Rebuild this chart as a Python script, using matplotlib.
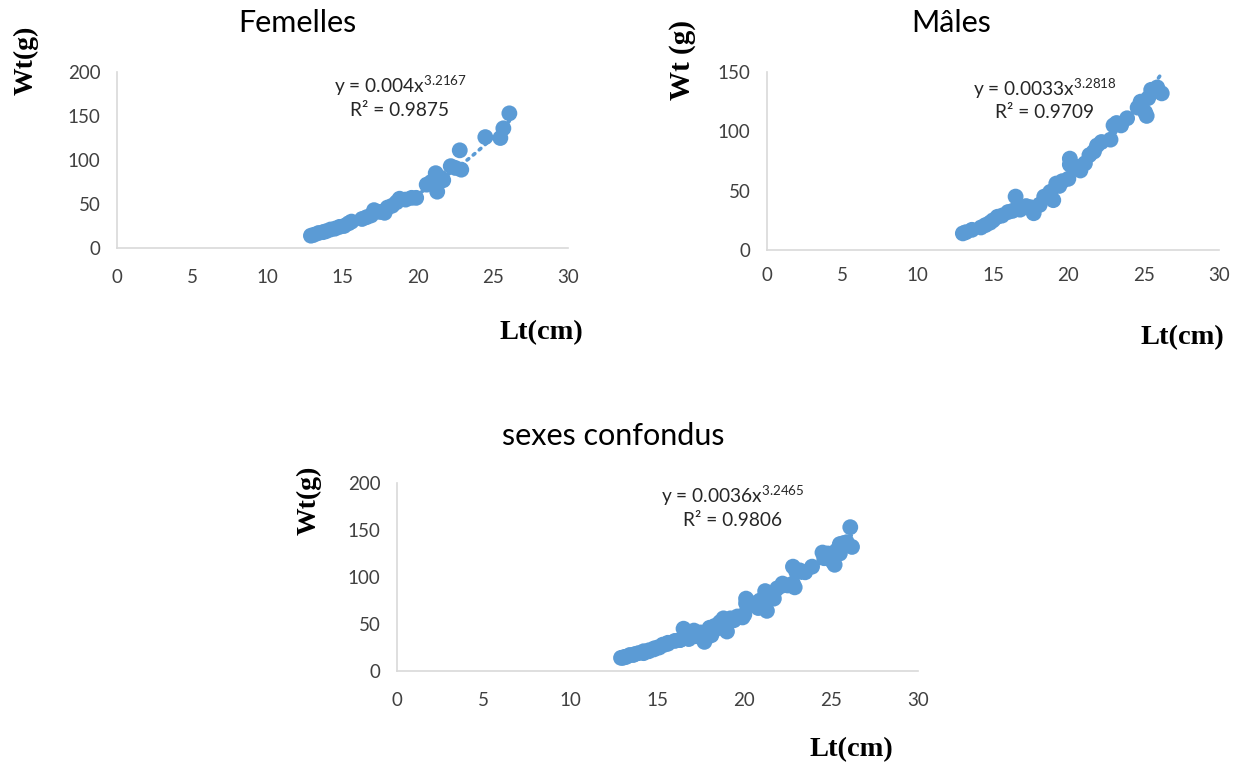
import matplotlib
matplotlib.use("Agg")
import matplotlib.pyplot as plt
import numpy as np

# ---- data ----
fem_lt = [12.9, 13.1, 13.4, 13.7, 13.9, 14.2, 14.5, 14.8, 15.1, 15.4, 15.6, 16.3, 16.6, 16.9,
          17.1, 17.5, 17.8, 18.0, 18.3, 18.6, 18.8, 19.2, 19.6, 19.9, 20.6, 20.9, 21.2, 21.3,
          21.5, 21.7, 22.2, 22.5, 22.8, 22.9, 24.5, 25.5, 25.7, 26.1]
fem_wt = [14, 15, 17, 18, 19, 21, 22, 24, 25, 28, 30, 33, 35, 37,
          43, 41, 40, 46, 48, 52, 56, 55, 57, 57, 72, 75, 85, 64,
          80, 77, 93, 91, 111, 89, 126, 125, 136, 153]

mal_lt = [13.0, 13.2, 13.6, 14.2, 14.5, 14.8, 15.0, 15.3, 15.6, 16.0, 16.3, 16.5, 16.8, 17.2,
          17.5, 17.7, 18.1, 18.4, 18.8, 19.0, 19.2, 19.4, 19.6, 20.0, 20.1, 20.1, 20.6, 20.8,
          21.1, 21.4, 21.7, 21.9, 22.2, 22.8, 23.0, 23.2, 23.5, 23.9, 24.6, 24.8, 25.1, 25.2,
          25.3, 25.5, 25.9, 26.2]
mal_wt = [14, 15, 17, 19, 21, 23, 25, 28, 29, 32, 33, 45, 34, 37,
          36, 31, 38, 45, 49, 42, 56, 54, 58, 60, 77, 72, 70, 67,
          73, 80, 83, 88, 91, 93, 105, 107, 105, 111, 120, 125, 116, 113,
          128, 135, 137, 132]

all_lt = fem_lt + mal_lt
all_wt = fem_wt + mal_wt

titles = ["Femelles", "Mâles", "sexes confondus"]
coef_a = [0.004, 0.0033, 0.0036]
coef_b = [3.2167, 3.2818, 3.2465]
r2 = ["0.9875", "0.9709", "0.9806"]
a_txt = ["0.004", "0.0033", "0.0036"]
ylabels = ["Wt(g)", "Wt (g)", "Wt(g)"]
ymax = [200, 150, 200]
x_ticks = [0, 5, 10, 15, 20, 25, 30]

plt.rcParams["mathtext.fontset"] = "custom"
plt.rcParams["mathtext.rm"] = "Lato"
plt.rcParams["mathtext.it"] = "Lato"
plt.rcParams["mathtext.bf"] = "Lato:bold"

BLUE = "#5B9BD5"
GRID = "#D9D9D9"
TXT = "#404040"
SANS = ["Lato", "DejaVu Sans"]
SERIF = ["Liberation Serif", "DejaVu Serif"]

W, H = 1250, 767
fig = plt.figure(figsize=(W / 100, H / 100), dpi=100)

# pixel boxes: left, right, top, bottom
boxes = [(117, 568, 72, 248), (767, 1219, 72, 250), (397, 918, 483, 671)]
title_pos = [(297, 23), (951, 23), (613, 436)]
ylab_pos = [(26, 60), (683, 60), (309, 500)]
ylab_size = [20, 21, 20]
xlab_pos = [(541, 333), (1182, 338), (851, 750)]
eq_pos = [(400, 86), (1045, 89), (733, 496)]
xpad = [15, 12, 15]

datasets = [(fem_lt, fem_wt), (mal_lt, mal_wt), (all_lt, all_wt)]

for i in range(3):
    l, r, t, b = boxes[i]
    ax = fig.add_axes([l / W, 1 - b / H, (r - l) / W, (b - t) / H])
    x, y = datasets[i]
    xs = np.linspace(min(x), max(x), 200)
    ax.plot(xs, coef_a[i] * xs ** coef_b[i], linestyle=(0, (0.6, 1.6)), color=BLUE,
            linewidth=2.6, dash_capstyle="round", zorder=2)
    ax.scatter(x, y, s=130, color=BLUE, edgecolors="none", zorder=3)
    ax.set_xlim(0, 30)
    ax.set_ylim(0, ymax[i])
    ax.set_xticks(x_ticks)
    ax.set_yticks(np.arange(0, ymax[i] + 1, 50))
    for s in ["top", "right"]:
        ax.spines[s].set_visible(False)
    for s in ["left", "bottom"]:
        ax.spines[s].set_color(GRID)
        ax.spines[s].set_linewidth(1.2)
    ax.tick_params(axis="both", length=0, labelsize=13.5, labelcolor=TXT)
    ax.tick_params(axis="x", pad=xpad[i])
    ax.tick_params(axis="y", pad=12)
    for lab in ax.get_xticklabels() + ax.get_yticklabels():
        lab.set_family(SANS)
    ax.patch.set_alpha(0)

    tx, ty = title_pos[i]
    fig.text(tx / W, 1 - ty / H, titles[i], ha="center", va="center", fontsize=22,
             family=SANS, color="#000000")
    yx, yy = ylab_pos[i]
    fig.text(yx / W, 1 - yy / H, ylabels[i], ha="center", va="center", rotation=90,
             fontsize=ylab_size[i], family=SERIF, fontweight="bold")
    lx, ly = xlab_pos[i]
    fig.text(lx / W, 1 - ly / H, "Lt(cm)", ha="center", va="center",
             fontsize=20.5, family=SERIF, fontweight="bold")
    ex, ey = eq_pos[i]
    fig.text(ex / W, 1 - ey / H, "y = %sx$^{%.4f}$" % (a_txt[i], coef_b[i]), ha="center",
             va="center", fontsize=13.8, family=SANS, color="#262626")
    fig.text(ex / W, 1 - (ey + 24) / H, "R² = %s" % r2[i], ha="center", va="center",
             fontsize=13.8, family=SANS, color="#262626")

fig.savefig("out.png", dpi=100)
